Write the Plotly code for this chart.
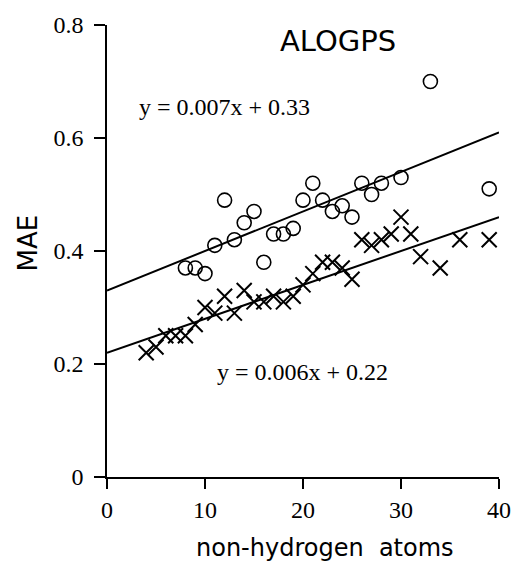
import plotly.graph_objects as go

# Mean absolute error against molecule size (ALOGPS)
circle_atoms = [8, 9, 10, 11, 12, 13, 14, 15, 16, 17, 18, 19, 20, 21, 22, 23, 24, 25, 26, 27, 28, 30, 33, 39]
circle_mae = [0.37, 0.37, 0.36, 0.41, 0.49, 0.42, 0.45, 0.47, 0.38, 0.43, 0.43, 0.44, 0.49, 0.52,
              0.49, 0.47, 0.48, 0.46, 0.52, 0.50, 0.52, 0.53, 0.70, 0.51]

cross_atoms = [4, 5, 6, 7, 8, 9, 10, 11, 12, 13, 14, 15, 16, 17, 18, 19, 20, 21, 22, 23, 24, 25,
               26, 27, 28, 29, 30, 31, 32, 34, 36, 39]
cross_mae = [0.22, 0.23, 0.25, 0.25, 0.25, 0.27, 0.30, 0.29, 0.32, 0.29, 0.33, 0.31, 0.31, 0.32,
             0.31, 0.32, 0.34, 0.36, 0.38, 0.38, 0.37, 0.35, 0.42, 0.41, 0.42, 0.43, 0.46, 0.43,
             0.39, 0.37, 0.42, 0.42]

# Linear fits: slope, intercept
circle_fit = (0.007, 0.33)
cross_fit = (0.006, 0.22)
fit_x = [0, 40]

x_ticks = [0, 10, 20, 30, 40]
x_ticktext = ["0", "10", "20", "30", "40"]
y_ticks = [0, 0.2, 0.4, 0.6, 0.8]
y_ticktext = ["0", "0.2", "0.4", "0.6", "0.8"]

serif = "Liberation Serif"
sans = "DejaVu Sans"

fig = go.Figure()

for slope, icpt in (circle_fit, cross_fit):
    fig.add_trace(go.Scatter(
        x=fit_x, y=[slope * v + icpt for v in fit_x], mode="lines",
        line=dict(color="black", width=2), showlegend=False, hoverinfo="skip"))

fig.add_trace(go.Scatter(
    x=circle_atoms, y=circle_mae, mode="markers", showlegend=False, cliponaxis=False,
    marker=dict(symbol="circle-open", size=14, color="black", line=dict(width=1.6))))

fig.add_trace(go.Scatter(
    x=cross_atoms, y=cross_mae, mode="markers", showlegend=False, cliponaxis=False,
    marker=dict(symbol="x-thin-open", size=15, color="black", line=dict(width=2, color="black"))))

fig.add_annotation(x=12.0, y=0.655, xref="x", yref="y", showarrow=False,
                   text=f"y = {circle_fit[0]}x + {circle_fit[1]}",
                   font=dict(family=serif, size=24, color="black"))
fig.add_annotation(x=19.9, y=0.186, xref="x", yref="y", showarrow=False,
                   text=f"y = {cross_fit[0]}x + {cross_fit[1]}",
                   font=dict(family=serif, size=24, color="black"))
fig.add_annotation(x=23.6, y=0.772, xref="x", yref="y", showarrow=False,
                   text="ALOGPS", font=dict(family=sans, size=29, color="black"))

# Axis titles
fig.add_annotation(x=22.2, y=-0.157, xref="x", yref="paper", showarrow=False,
                   xanchor="center", yanchor="middle",
                   text="non-hydrogen  atoms", font=dict(family=sans, size=24, color="black"))
fig.add_annotation(x=-0.201, y=0.517, xref="paper", yref="paper", showarrow=False,
                   xanchor="center", yanchor="middle", textangle=-90,
                   text="MAE", font=dict(family=sans, size=26, color="black"))

fig.update_layout(
    width=523, height=561,
    margin=dict(l=107, r=13, t=24, b=84),
    paper_bgcolor="white", plot_bgcolor="white",
    xaxis=dict(range=[0, 40], tickvals=x_ticks, ticktext=x_ticktext,
               showline=True, linecolor="black", linewidth=1.5, mirror=False,
               ticks="outside", ticklen=10, tickwidth=1.5, tickcolor="black",
               showgrid=False, zeroline=False,
               tickfont=dict(family=serif, size=24, color="black")),
    yaxis=dict(range=[0, 0.8], tickvals=y_ticks, ticktext=y_ticktext,
               showline=True, linecolor="black", linewidth=1.5, mirror=False,
               ticks="outside", ticklen=11, tickwidth=1.5, tickcolor="black",
               ticklabelstandoff=6,
               showgrid=False, zeroline=False,
               tickfont=dict(family=serif, size=24, color="black")),
)

fig.write_html("out.html")
